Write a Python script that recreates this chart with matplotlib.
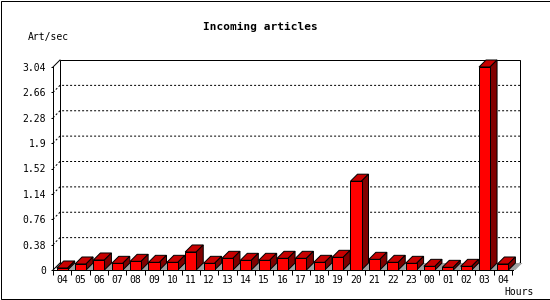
import matplotlib
matplotlib.use("Agg")
import matplotlib.pyplot as plt
from matplotlib.patches import Polygon, Rectangle

# donnees
heures = ["04", "05", "06", "07", "08", "09", "10", "11", "12", "13", "14", "15", "16",
          "17", "18", "19", "20", "21", "22", "23", "00", "01", "02", "03", "04"]
articles = [0.03, 0.09, 0.15, 0.10, 0.13, 0.115, 0.115, 0.27, 0.10, 0.175, 0.145, 0.145,
            0.175, 0.175, 0.115, 0.19, 1.33, 0.16, 0.115, 0.10, 0.055, 0.04, 0.055, 3.04, 0.09]
graduations = [0, 0.38, 0.76, 1.14, 1.52, 1.9, 2.28, 2.66, 3.04]
etiquettes = ["0", "0.38", "0.76", "1.14", "1.52", "1.9", "2.28", "2.66", "3.04"]

ROUGE = "#ff0000"
DESSUS = "#c80000"
COTE = "#800000"
OMBRE = "#a0a0a0"
LW = 0.72  # 1 pixel
POLICE = "DejaVu Sans Mono"

W, H = 550, 300
fig = plt.figure(figsize=(W / 100, H / 100), dpi=100)
fig.patch.set_facecolor("white")
ax = fig.add_axes([53 / W, 30 / H, 460 / W, 203 / H])
xmin, xmax = -0.5, 24.55
ymin, ymax = 0, 3.04
ax.set_xlim(xmin, xmax)
ax.set_ylim(ymin, ymax)
ax.patch.set_alpha(0)

# profondeur 3D : 7 pixels vers la droite et vers le haut
px_x = 460 / (xmax - xmin)
px_y = 203 / (ymax - ymin)
dx = 7 / px_x
dy = 7 / px_y
decal = 7 / px_x  # decalage de l'ombre

# fond : boite arriere et lignes de grille pointillees
ax.add_patch(Rectangle((xmin + dx, ymin + dy), xmax - xmin, ymax - ymin, fill=False,
                       ec="black", lw=LW, clip_on=False, zorder=1))
ax.plot([xmin, xmin + dx], [ymax, ymax + dy], color="black", lw=LW, clip_on=False, zorder=1)
ax.plot([xmin, xmin + dx], [ymin, ymin + dy], color="black", lw=LW, clip_on=False, zorder=1)
ax.plot([xmax, xmax + dx], [ymin, ymin + dy], color="black", lw=LW, clip_on=False, zorder=1)
for v in graduations[1:-1]:
    ax.plot([xmin, xmin + dx, xmax + dx], [v, v + dy, v + dy], color="black", lw=LW,
            ls=(0, (2, 2)), clip_on=False, zorder=1)

# barres en 3D
largeur = 0.6
for i, v in enumerate(articles):
    x0, x1 = i - largeur / 2, i + largeur / 2
    ax.add_patch(Polygon([(x0 + decal, 0), (x1 + decal, 0), (x1 + decal + dx, dy),
                          (x0 + decal + dx, dy)], closed=True, fc=OMBRE, ec="none",
                         zorder=2, clip_on=False))
    ax.add_patch(Polygon([(x0, v), (x1, v), (x1 + dx, v + dy), (x0 + dx, v + dy)],
                         closed=True, fc=DESSUS, ec="black", lw=LW, zorder=3, clip_on=False))
    ax.add_patch(Polygon([(x1, 0), (x1 + dx, dy), (x1 + dx, v + dy), (x1, v)],
                         closed=True, fc=COTE, ec="black", lw=LW, zorder=3, clip_on=False))
ax.bar(range(len(articles)), articles, width=largeur, color=ROUGE, edgecolor="black",
       lw=LW, zorder=4, clip_on=False)

# axes
for s in ("top", "right"):
    ax.spines[s].set_visible(False)
for s in ("left", "bottom"):
    ax.spines[s].set_linewidth(LW)
    ax.spines[s].set_zorder(5)

ax.set_xticks(range(len(heures)))
ax.set_xticklabels(heures, fontfamily=POLICE, fontsize=7)
ax.set_xticks([i - 0.5 for i in range(len(heures) + 1)], minor=True)
ax.tick_params(axis="x", which="major", length=0, pad=3.5)
ax.tick_params(axis="x", which="minor", length=3.6, width=LW, direction="out")
ax.set_yticks(graduations)
ax.set_yticklabels(etiquettes, fontfamily=POLICE, fontsize=7)
ax.tick_params(axis="y", length=1.5, width=LW, direction="out", pad=3.5)

fig.text(260 / W, 1 - 27 / H, "Incoming articles", ha="center", va="center",
         fontfamily=POLICE, fontsize=8, fontweight="bold")
fig.text(28 / W, 1 - 37 / H, "Art/sec", ha="left", va="center", fontfamily=POLICE, fontsize=7)
fig.text(504 / W, 1 - 292 / H, "Hours", ha="left", va="center", fontfamily=POLICE, fontsize=7)

# cadre de l'image
fig.patches.append(Rectangle((0.5 / W, 1.5 / H), 549 / W, 298 / H, fill=False, ec="black",
                             lw=LW, transform=fig.transFigure, figure=fig))

fig.savefig("out.png", dpi=100)
